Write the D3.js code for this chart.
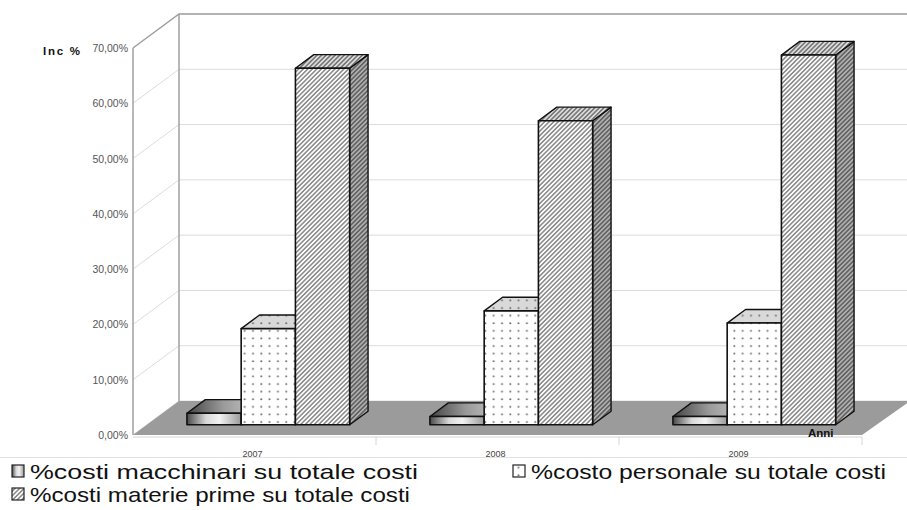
<!DOCTYPE html>
<html>
<head>
<meta charset="utf-8">
<script src="https://cdn.jsdelivr.net/npm/d3@7"></script>
<style>
  html, body { margin: 0; padding: 0; background: #fff; }
  svg { display: block; }
</style>
</head>
<body>
<svg id="chart" width="907" height="510"></svg>
<script>
// Incidence of cost items on total costs, by year
const years = ["2007", "2008", "2009"];
const seriesKeys = ["macchinari", "personale", "materie"];
const seriesNames = [
  "%costi macchinari su totale costi",
  "%costo personale su totale costi",
  "%costi materie prime su totale costi"
];
const macchinari = [2.1, 1.5, 1.5];
const personale = [17.4, 20.6, 18.4];
const materie = [64.5, 55.0, 66.9];
const yTicks = [0, 10, 20, 30, 40, 50, 60, 70];
const yTickLabels = ["0,00%", "10,00%", "20,00%", "30,00%", "40,00%", "50,00%", "60,00%", "70,00%"];
const yAxisTitle = "Inc %";
const xAxisTitle = "Anni";

const values = { macchinari, personale, materie };

const svg = d3.select("#chart");
const W = 907;
const FONT = "Liberation Sans, Arial, sans-serif";

// plot frame: front plane and depth offset of the 3D box
const frontLeft = 133, frontRight = 862, baseY = 435, topY = 48;
const depthX = 46, depthY = 34;
const zFront = 0.30, zBack = 0.70;

const y = d3.scaleLinear().domain([0, 70]).range([baseY, topY]);
const x = d3.scaleBand().domain(years).range([frontLeft, frontRight]);
const xs = d3.scaleBand().domain(seriesKeys).range([0, x.bandwidth()])
  .paddingInner(0).paddingOuter(0.74);

const proj = (px, v, z) => [px + z * depthX, y(v) - z * depthY];
const poly = pts => "M" + pts.map(p => p.join(",")).join("L") + "Z";

// ---------- patterns & gradients ----------
const defs = svg.append("defs");

function dots(id, bg) {
  const p = defs.append("pattern").attr("id", id).attr("patternUnits", "userSpaceOnUse")
    .attr("width", 8.3).attr("height", 7.6);
  p.append("rect").attr("width", 8.3).attr("height", 7.6).attr("fill", bg);
  p.append("circle").attr("cx", 4).attr("cy", 4).attr("r", 1.0).attr("fill", "#6a6a6a");
}
dots("dotsFront", "#ffffff");
dots("dotsTop", "#d9d9d9");

function hatch(id, bg, stroke) {
  const p = defs.append("pattern").attr("id", id).attr("patternUnits", "userSpaceOnUse")
    .attr("width", 3.2).attr("height", 10).attr("patternTransform", "rotate(45)");
  p.append("rect").attr("width", 3.2).attr("height", 10).attr("fill", bg);
  p.append("line").attr("x1", 0.8).attr("x2", 0.8).attr("y1", 0).attr("y2", 10)
    .attr("stroke", stroke).attr("stroke-width", 1.0);
}
hatch("hatchFront", "#ffffff", "#4a4a4a");
hatch("hatchTop", "#dedede", "#3a3a3a");
hatch("hatchSide", "#b0b0b0", "#333");

const gFront = defs.append("linearGradient").attr("id", "gradFront")
  .attr("x1", "0").attr("x2", "1").attr("y1", "0").attr("y2", "0");
[["0", "#4a4a4a"], ["0.35", "#d8d8d8"], ["0.6", "#f2f2f2"], ["1", "#9a9a9a"]]
  .forEach(([o, c]) => gFront.append("stop").attr("offset", o).attr("stop-color", c));
const gTop = defs.append("linearGradient").attr("id", "gradTop")
  .attr("x1", "0").attr("x2", "1").attr("y1", "0").attr("y2", "0");
[["0", "#444"], ["0.5", "#9a9a9a"], ["1", "#c8c8c8"]]
  .forEach(([o, c]) => gTop.append("stop").attr("offset", o).attr("stop-color", c));

const fills = {
  macchinari: { front: "url(#gradFront)", top: "url(#gradTop)", side: "#666" },
  personale: { front: "url(#dotsFront)", top: "url(#dotsTop)", side: "url(#dotsTop)" },
  materie: { front: "url(#hatchFront)", top: "url(#hatchTop)", side: "url(#hatchSide)" }
};

// ---------- walls & gridlines ----------
const backRight = frontRight + depthX;
const grid = svg.append("g");
yTicks.forEach(t => {
  const a = proj(frontLeft, t, 0), b = proj(frontLeft, t, 1), c = [backRight, b[1]];
  grid.append("path").attr("d", `M${a}L${b}L${c}`)
    .attr("fill", "none").attr("stroke", "#dcdcdc").attr("stroke-width", 1);
});

// back wall left edge and top edge
const bl0 = proj(frontLeft, 0, 1), bl1 = proj(frontLeft, 70, 1);
svg.append("line").attr("x1", bl0[0]).attr("y1", bl0[1]).attr("x2", bl1[0]).attr("y2", bl1[1])
  .attr("stroke", "#a0a0a0").attr("stroke-width", 1.5);
const ft = proj(frontLeft, 70, 0);
svg.append("path").attr("d", `M${ft}L${bl1}L${backRight},${bl1[1]}`)
  .attr("fill", "none").attr("stroke", "#a0a0a0").attr("stroke-width", 1.5);

// floor
svg.append("path")
  .attr("d", poly([proj(frontLeft, 0, 0), proj(frontLeft, 0, 1), [backRight + 2, y(0) - depthY], proj(frontRight, 0, 0)]))
  .attr("fill", "#9b9b9b");

// category axis under the floor
svg.append("line").attr("x1", frontLeft).attr("x2", frontRight).attr("y1", baseY + 2).attr("y2", baseY + 2)
  .attr("stroke", "#d6d6d6").attr("stroke-width", 1);
years.forEach(yr => {
  const xe = x(yr) + x.bandwidth();
  svg.append("line").attr("x1", xe).attr("x2", xe).attr("y1", baseY + 2).attr("y2", baseY + 10)
    .attr("stroke", "#d6d6d6").attr("stroke-width", 1);
});

// front value axis
svg.append("line").attr("x1", frontLeft).attr("x2", frontLeft).attr("y1", y(0)).attr("y2", y(70))
  .attr("stroke", "#a0a0a0").attr("stroke-width", 1.5);

svg.append("g").selectAll("text").data(yTicks).join("text")
  .attr("x", frontLeft - 5).attr("y", d => y(d) + 4)
  .attr("text-anchor", "end")
  .attr("font-family", FONT)
  .attr("font-size", 10.5).attr("fill", "#555")
  .text((d, i) => yTickLabels[i]);

svg.append("text").attr("x", 43).attr("y", 55)
  .attr("font-family", FONT).attr("font-weight", "bold")
  .attr("font-size", 11.5).attr("fill", "#111")
  .attr("textLength", 37).attr("lengthAdjust", "spacing")
  .text(yAxisTitle);

// ---------- bars ----------
const bars = svg.append("g");
years.forEach((yr, i) => {
  seriesKeys.forEach(k => {
    const v = values[k][i];
    const x0 = x(yr) + xs(k), x1 = x0 + xs.bandwidth();
    const g = bars.append("g");
    const side = [proj(x1, 0, zFront), proj(x1, 0, zBack), proj(x1, v, zBack), proj(x1, v, zFront)];
    const top = [proj(x0, v, zFront), proj(x1, v, zFront), proj(x1, v, zBack), proj(x0, v, zBack)];
    const front = [proj(x0, 0, zFront), proj(x1, 0, zFront), proj(x1, v, zFront), proj(x0, v, zFront)];
    g.append("path").attr("d", poly(side)).attr("fill", fills[k].side)
      .attr("stroke", "#111").attr("stroke-width", 1.4).attr("stroke-linejoin", "round");
    g.append("path").attr("d", poly(top)).attr("fill", fills[k].top)
      .attr("stroke", "#111").attr("stroke-width", 1.4).attr("stroke-linejoin", "round");
    g.append("path").attr("d", poly(front)).attr("fill", fills[k].front)
      .attr("stroke", "#111").attr("stroke-width", 1.6).attr("stroke-linejoin", "round");
  });
});

// axis title on the floor
svg.append("text").attr("x", 808).attr("y", 437)
  .attr("font-family", FONT).attr("font-weight", "bold")
  .attr("font-size", 11.5).attr("fill", "#111").text(xAxisTitle);

// category labels, partly hidden under the legend band
svg.append("defs").append("clipPath").attr("id", "catClip")
  .append("rect").attr("x", 0).attr("y", 440).attr("width", W).attr("height", 17);
svg.append("g").attr("clip-path", "url(#catClip)")
  .selectAll("text").data(years).join("text")
  .attr("x", d => x(d) + x.bandwidth() / 2 - 2).attr("y", 457)
  .attr("text-anchor", "middle")
  .attr("font-family", FONT)
  .attr("font-size", 9).attr("fill", "#444")
  .text(d => d);
svg.append("line").attr("x1", 0).attr("x2", W).attr("y1", 457.5).attr("y2", 457.5)
  .attr("stroke", "#e2e2e2").attr("stroke-width", 1);

// ---------- legend ----------
const legendItems = [
  { key: "macchinari", x: 12, y: 479, len: 388 },
  { key: "personale", x: 513, y: 479, len: 355 },
  { key: "materie", x: 12, y: 502, len: 380 }
];
const legendFill = { macchinari: "url(#gradFront)", personale: "url(#dotsFront)", materie: "url(#hatchFront)" };
const leg = svg.append("g");
legendItems.forEach(it => {
  const idx = seriesKeys.indexOf(it.key);
  leg.append("rect").attr("x", it.x).attr("y", it.y - 14).attr("width", 12).attr("height", 12)
    .attr("fill", legendFill[it.key]).attr("stroke", "#222").attr("stroke-width", 1.2);
  leg.append("text").attr("x", it.x + 18).attr("y", it.y)
    .attr("font-family", FONT)
    .attr("font-size", 21).attr("fill", "#111")
    .attr("textLength", it.len).attr("lengthAdjust", "spacingAndGlyphs")
    .text(seriesNames[idx]);
});
</script>
</body>
</html>
